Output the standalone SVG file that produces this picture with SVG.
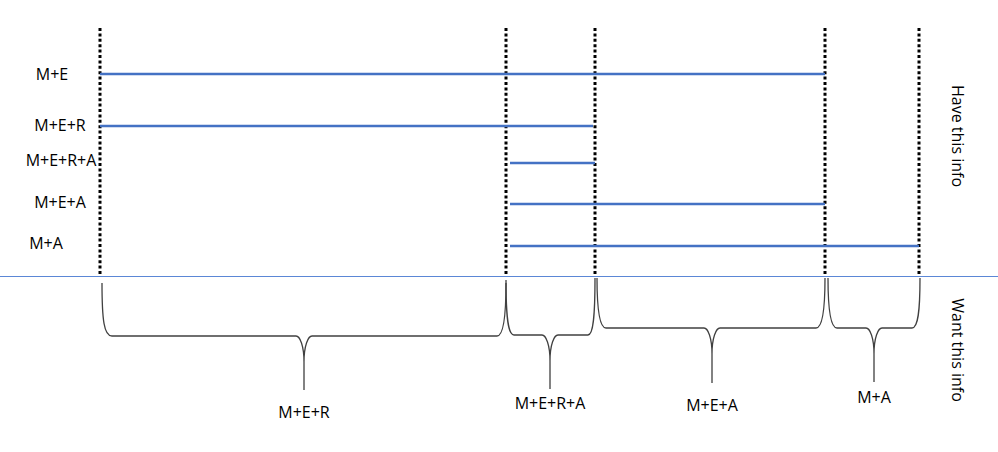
<svg xmlns="http://www.w3.org/2000/svg" width="998" height="452" viewBox="0 0 998 452">
<style>
.lbl{font-family:"Open Sans","Liberation Sans",sans-serif;font-size:16px;fill:#000;text-anchor:middle;dominant-baseline:central}
.dot{stroke:#000;stroke-width:3;stroke-dasharray:3 2.4;fill:none}
.bar{stroke:#4472C4;stroke-width:2.5;fill:none}
.brace{stroke:#404040;stroke-width:1.3;fill:none}
</style>
<rect width="998" height="452" fill="#fff"/>
<line x1="0" y1="276.5" x2="998" y2="276.5" stroke="#5B87D6" stroke-width="1"/>
<g id="dividers">
<line class="dot" x1="100" y1="28" x2="100" y2="274"/>
<line class="dot" x1="506" y1="28" x2="506" y2="274"/>
<line class="dot" x1="595" y1="28" x2="595" y2="274"/>
<line class="dot" x1="825" y1="28" x2="825" y2="274"/>
<line class="dot" x1="919" y1="28" x2="919" y2="274"/>
</g>
<g id="connectors">
<line class="bar" x1="100" y1="74" x2="825" y2="74"/>
<line class="bar" x1="100" y1="126" x2="593" y2="126"/>
<line class="bar" x1="510" y1="163" x2="595" y2="163"/>
<line class="bar" x1="510" y1="204" x2="825" y2="204"/>
<line class="bar" x1="510" y1="246" x2="919" y2="246"/>
</g>
<g id="row-labels">
<text class="lbl" x="52" y="74">M+E</text>
<text class="lbl" x="60" y="125">M+E+R</text>
<text class="lbl" x="61" y="160">M+E+R+A</text>
<text class="lbl" x="60" y="202">M+E+A</text>
<text class="lbl" x="46" y="243">M+A</text>
</g>
<g id="side-labels">
<text class="lbl" transform="translate(958,136) rotate(90)">Have this info</text>
<text class="lbl" transform="translate(958,350) rotate(90)">Want this info</text>
</g>
<g id="brace-1">
<path class="brace" d="M102 283 C102 320 104 336 112 336 L296 336 C300 336 304 346 304 362 L304 390 M304 362 C304 346 308 336 312 336 L497 336 C503 336 506 320 506 283"/>
<text class="lbl" x="304" y="412">M+E+R</text>
</g>
<g id="brace-2">
<path class="brace" d="M506 280 C506 318 508 335 514 335 L542 335 C546 335 550 345 550 361 L550 389 M550 361 C550 345 554 335 558 335 L588 335 C593 335 595 318 595 278"/>
<text class="lbl" x="550" y="403">M+E+R+A</text>
</g>
<g id="brace-3">
<path class="brace" d="M597 278 C597 312 600 328 606 328 L704 328 C708 328 712 338 712 354 L712 383 M712 354 C712 338 716 328 720 328 L816 328 C822 328 825 312 825 278"/>
<text class="lbl" x="712" y="405">M+E+A</text>
</g>
<g id="brace-4">
<path class="brace" d="M828 278 C828 312 831 328 837 328 L866 328 C870 328 874 338 874 354 L874 382 M874 354 C874 338 878 328 882 328 L912 328 C918 328 920 312 920 278"/>
<text class="lbl" x="874" y="397">M+A</text>
</g>
</svg>
